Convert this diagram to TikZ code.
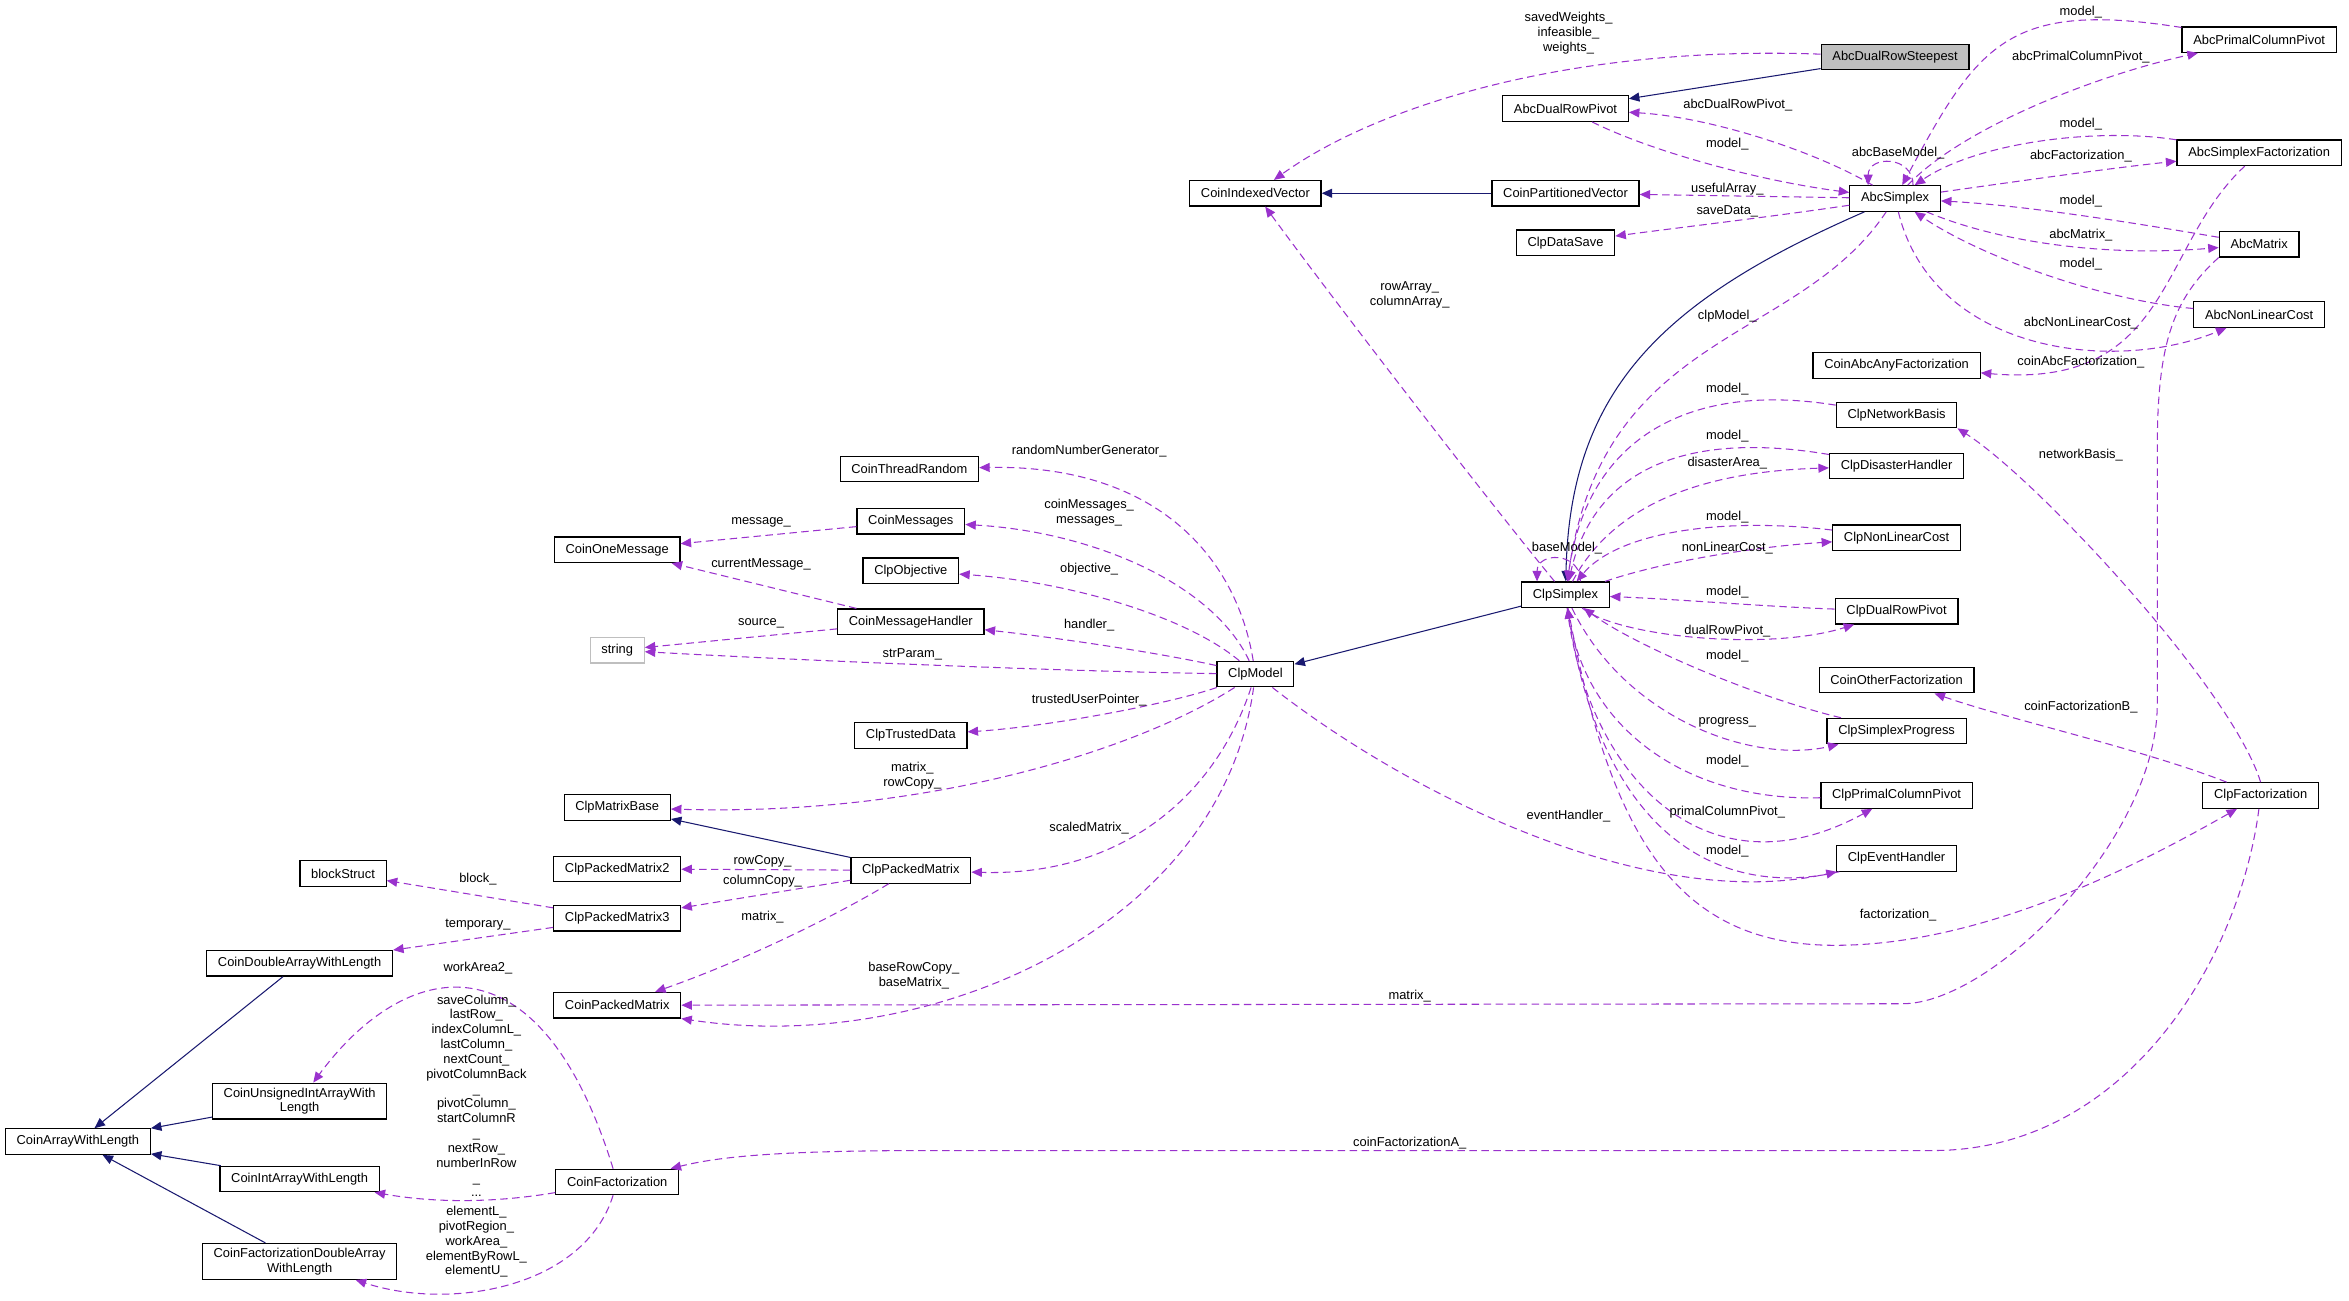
\documentclass[tikz,border=0pt]{standalone}
\usepackage{fontspec}
\setmainfont{Liberation Sans}
\usetikzlibrary{arrows.meta}
\definecolor{memcol}{HTML}{9A32CD}
\definecolor{inhcol}{HTML}{191970}
\definecolor{greyline}{HTML}{BFBFBF}

\begin{document}
\begin{tikzpicture}
[x=1pt,y=-1pt,
 cls/.style={rectangle,draw=black,fill=white,line width=0.8pt,inner xsep=7.5pt,inner ysep=3pt,minimum height=17pt,font=\fontsize{8.6}{9.9}\selectfont,align=center},
 lbl/.style={inner sep=0pt,font=\fontsize{8.6}{9.9}\selectfont,align=center},
 inh/.style={draw=inhcol,line width=0.7pt,-{Triangle[length=7pt,width=6pt]}},
 memb/.style={draw=memcol,line width=0.7pt,dash pattern=on 5pt off 3pt,-{Triangle[length=7pt,width=6pt]}}]
\useasboundingbox[fill=white] (0,0) rectangle (1568,868);
\node[cls,fill=greyline] at (1265,38) (adrs) {AbcDualRowSteepest};
\node[cls] at (1508,26.5) (apcp) {AbcPrimalColumnPivot};
\node[cls] at (1045,72.5) (adrp) {AbcDualRowPivot};
\node[cls] at (1508,102) (asf) {AbcSimplexFactorization};
\node[cls] at (838,129) (civ) {CoinIndexedVector};
\node[cls] at (1045,129) (cpv) {CoinPartitionedVector};
\node[cls] at (1265,132.5) (abcs) {AbcSimplex};
\node[cls] at (1045,162) (cds) {ClpDataSave};
\node[cls] at (1508,163) (amat) {AbcMatrix};
\node[cls] at (1508,210) (anlc) {AbcNonLinearCost};
\node[cls] at (1266,244) (caaf) {CoinAbcAnyFactorization};
\node[cls] at (1266,277) (cnb) {ClpNetworkBasis};
\node[cls] at (607,313) (ctr) {CoinThreadRandom};
\node[cls] at (1266,311) (cdh) {ClpDisasterHandler};
\node[cls] at (608,348) (cmsg) {CoinMessages};
\node[cls] at (1266,359) (cnlc) {ClpNonLinearCost};
\node[cls] at (412,367) (com) {CoinOneMessage};
\node[cls] at (608,381) (cobj) {ClpObjective};
\node[cls] at (1045,397) (clps) {ClpSimplex};
\node[cls] at (608,415) (cmh) {CoinMessageHandler};
\node[cls] at (1266,408) (cdrp) {ClpDualRowPivot};
\node[cls,draw=greyline] at (412,434) (str) {string};
\node[cls] at (838,450) (clpm) {ClpModel};
\node[cls] at (1266,454) (cof) {CoinOtherFactorization};
\node[cls] at (1266,488) (csp) {ClpSimplexProgress};
\node[cls] at (608,491) (ctd) {ClpTrustedData};
\node[cls] at (1509,531) (cfz) {ClpFactorization};
\node[cls] at (1266,531) (cpcp) {ClpPrimalColumnPivot};
\node[cls] at (412,539) (cmb) {ClpMatrixBase};
\node[cls] at (1266,573) (ceh) {ClpEventHandler};
\node[cls] at (229,583) (bs) {blockStruct};
\node[cls] at (412,580) (cpm2) {ClpPackedMatrix2};
\node[cls] at (608,581) (cpm) {ClpPackedMatrix};
\node[cls] at (412,613) (cpm3) {ClpPackedMatrix3};
\node[cls] at (200,643) (cdawl) {CoinDoubleArrayWithLength};
\node[cls] at (412,671) (cpkm) {CoinPackedMatrix};
\node[cls] at (200,735) (cuiawl) {CoinUnsignedIntArrayWith\\Length};
\node[cls] at (52,762) (cawl) {CoinArrayWithLength};
\node[cls] at (200,787) (ciawl) {CoinIntArrayWithLength};
\node[cls] at (412,789) (cf) {CoinFactorization};
\node[cls] at (200,842) (cfdawl) {CoinFactorizationDoubleArray\\WithLength};
\draw[inh] (adrs) -- (adrp);
\draw[inh] (cpv) -- (civ);
\draw[inh] (abcs) .. controls (1110,200) and (1048,260) .. (clps);
\draw[inh] (clps) -- (clpm);
\draw[inh] (cpm) -- (cmb);
\draw[inh] (cdawl) -- (cawl);
\draw[inh] (cuiawl) -- (cawl);
\draw[inh] (ciawl) -- (cawl);
\draw[inh] (cfdawl) -- (cawl);
\draw[memb] (adrs) .. controls (1050,30) and (920,70) .. (civ);
\draw[memb] (abcs) .. controls (1210,100) and (1140,78) .. (adrp);
\draw[memb] (adrp) .. controls (1100,100) and (1170,120) .. (abcs);
\draw[memb] ([xshift=12pt]abcs.north) .. controls +(0,-20) and +(0,-20) .. ([xshift=-18pt]abcs.north);
\draw[memb] (apcp) .. controls (1340,0) and (1320,30) .. (abcs);
\draw[memb] (abcs) .. controls (1310,85) and (1400,50) .. (apcp);
\draw[memb] (asf) .. controls (1400,85) and (1320,95) .. (abcs);
\draw[memb] (abcs) .. controls (1340,122) and (1410,112) .. (asf);
\draw[memb] (abcs) -- (cpv);
\draw[memb] (abcs) .. controls (1180,145) and (1120,152) .. (cds);
\draw[memb] (amat) .. controls (1420,148) and (1350,137) .. (abcs);
\draw[memb] (abcs) .. controls (1330,160) and (1400,172) .. (amat);
\draw[memb] (anlc) .. controls (1400,200) and (1320,170) .. (abcs);
\draw[memb] (abcs) .. controls (1290,235) and (1410,250) .. (anlc);
\draw[memb] (asf) .. controls (1440,165) and (1450,260) .. (caaf);
\draw[memb] (amat.south west) .. controls (1450,200) and (1440,230) .. (1440,300) -- (1440,470) .. controls (1440,560) and (1330,670) .. (1270,670) -- (cpkm);
\draw[memb] (abcs) .. controls (1200,230) and (1070,220) .. (clps);
\draw[memb] (clps) .. controls (990,330) and (890,200) .. (civ);
\draw[memb] ([xshift=10pt]clps.north) .. controls +(0,-20) and +(0,-20) .. ([xshift=-19pt]clps.north);
\draw[memb] (cnb) .. controls (1130,255) and (1060,290) .. (clps);
\draw[memb] (cdh) .. controls (1130,288) and (1065,310) .. (clps);
\draw[memb] (clps) .. controls (1075,340) and (1130,315) .. (cdh);
\draw[memb] (cnlc) .. controls (1150,345) and (1080,355) .. (clps);
\draw[memb] (clps) .. controls (1110,375) and (1170,365) .. (cnlc);
\draw[memb] (cdrp) .. controls (1180,405) and (1120,400) .. (clps);
\draw[memb] (clps) .. controls (1080,425) and (1180,435) .. (cdrp);
\draw[memb] (csp) .. controls (1170,465) and (1090,430) .. (clps);
\draw[memb] (clps) .. controls (1085,480) and (1170,510) .. (csp);
\draw[memb] (cpcp) .. controls (1130,535) and (1060,490) .. (clps);
\draw[memb] (clps) .. controls (1060,520) and (1140,600) .. (cpcp);
\draw[memb] (ceh) .. controls (1150,600) and (1070,560) .. (clps);
\draw[memb] (clpm) .. controls (940,530) and (1100,610) .. (ceh);
\draw[memb] (clps) .. controls (1075,560) and (1120,631) .. (1225,631) .. controls (1330,631) and (1440,570) .. (cfz);
\draw[memb] (cfz) .. controls (1430,500) and (1340,480) .. (cof);
\draw[memb] (cfz.north) .. controls (1490,460) and (1360,320) .. (cnb.south east);
\draw[memb] (cfz) .. controls (1495,640) and (1420,768) .. (1290,768) -- (620,768) .. controls (520,768) and (480,772) .. (cf);
\draw[memb] (clpm) .. controls (825,370) and (770,310) .. (ctr);
\draw[memb] (clpm) .. controls (810,390) and (730,355) .. (cmsg);
\draw[memb] (clpm) .. controls (790,410) and (710,388) .. (cobj);
\draw[memb] (clpm) .. controls (770,435) and (700,425) .. (cmh);
\draw[memb] (clpm) .. controls (700,448) and (520,440) .. (str);
\draw[memb] (clpm) .. controls (780,470) and (700,485) .. (ctd);
\draw[memb] (clpm) .. controls (760,500) and (620,545) .. (cmb);
\draw[memb] (clpm) .. controls (812,530) and (750,585) .. (cpm);
\draw[memb] (clpm) .. controls (815,620) and (620,705) .. (cpkm.south east);
\draw[memb] (cmsg) -- (com);
\draw[memb] (cmh) -- (com);
\draw[memb] (cmh) -- (str);
\draw[memb] (cpm) -- (cpm2);
\draw[memb] (cpm) -- (cpm3);
\draw[memb] (cpm) .. controls (560,610) and (500,640) .. (cpkm);
\draw[memb] (cpm3) -- (bs);
\draw[memb] (cpm3) -- (cdawl);
\draw[memb] (cf) .. controls (360,620) and (270,640) .. (cuiawl);
\draw[memb] (cf) .. controls (330,803) and (290,803) .. (ciawl);
\draw[memb] (cf) .. controls (390,860) and (300,875) .. (cfdawl);
\node[lbl] at (1047,22) (l1) {savedWeights\_\\infeasible\_\\weights\_};
\node[lbl] at (1160,70) (l2) {abcDualRowPivot\_};
\node[lbl] at (1153,96) (l3) {model\_};
\node[lbl] at (1267,102) (l4) {abcBaseModel\_};
\node[lbl] at (1389,8) (l5) {model\_};
\node[lbl] at (1389,38) (l6) {abcPrimalColumnPivot\_};
\node[lbl] at (1389,83) (l7) {model\_};
\node[lbl] at (1389,104) (l8) {abcFactorization\_};
\node[lbl] at (1153,126) (l9) {usefulArray\_};
\node[lbl] at (1153,141) (l10) {saveData\_};
\node[lbl] at (1389,134) (l11) {model\_};
\node[lbl] at (1389,157) (l12) {abcMatrix\_};
\node[lbl] at (1389,176) (l13) {model\_};
\node[lbl] at (1389,216) (l14) {abcNonLinearCost\_};
\node[lbl] at (1389,242) (l15) {coinAbcFactorization\_};
\node[lbl] at (1153,211) (l16) {clpModel\_};
\node[lbl] at (941,197) (l17) {rowArray\_\\columnArray\_};
\node[lbl] at (1153,260) (l18) {model\_};
\node[lbl] at (1153,291) (l19) {model\_};
\node[lbl] at (1153,309) (l20) {disasterArea\_};
\node[lbl] at (1389,304) (l21) {networkBasis\_};
\node[lbl] at (1153,345) (l22) {model\_};
\node[lbl] at (1153,366) (l23) {nonLinearCost\_};
\node[lbl] at (1046,366) (l24) {baseModel\_};
\node[lbl] at (1153,395) (l25) {model\_};
\node[lbl] at (1153,421) (l26) {dualRowPivot\_};
\node[lbl] at (1153,438) (l27) {model\_};
\node[lbl] at (1389,472) (l28) {coinFactorizationB\_};
\node[lbl] at (1153,482) (l29) {progress\_};
\node[lbl] at (1153,508) (l30) {model\_};
\node[lbl] at (1153,542) (l31) {primalColumnPivot\_};
\node[lbl] at (1047,545) (l32) {eventHandler\_};
\node[lbl] at (1153,568) (l33) {model\_};
\node[lbl] at (1267,611) (l34) {factorization\_};
\node[lbl] at (941,665) (l35) {matrix\_};
\node[lbl] at (941,763) (l36) {coinFactorizationA\_};
\node[lbl] at (727,301) (l37) {randomNumberGenerator\_};
\node[lbl] at (727,342) (l38) {coinMessages\_\\messages\_};
\node[lbl] at (727,380) (l39) {objective\_};
\node[lbl] at (727,417) (l40) {handler\_};
\node[lbl] at (609,437) (l41) {strParam\_};
\node[lbl] at (727,467) (l42) {trustedUserPointer\_};
\node[lbl] at (609,518) (l43) {matrix\_\\rowCopy\_};
\node[lbl] at (727,553) (l44) {scaledMatrix\_};
\node[lbl] at (610,651) (l45) {baseRowCopy\_\\baseMatrix\_};
\node[lbl] at (508,349) (l46) {message\_};
\node[lbl] at (508,377) (l47) {currentMessage\_};
\node[lbl] at (508,416) (l48) {source\_};
\node[lbl] at (509,575) (l49) {rowCopy\_};
\node[lbl] at (509,588) (l50) {columnCopy\_};
\node[lbl] at (509,612) (l51) {matrix\_};
\node[lbl] at (319,587) (l52) {block\_};
\node[lbl] at (319,617) (l53) {temporary\_};
\node[lbl] at (319,646) (l54) {workArea2\_};
\node[lbl] at (318,731.5) (l55) {saveColumn\_\\lastRow\_\\indexColumnL\_\\lastColumn\_\\nextCount\_\\pivotColumnBack\\\_\\pivotColumn\_\\startColumnR\\\_\\nextRow\_\\numberInRow\\\_\\...};
\node[lbl] at (318,829) (l56) {elementL\_\\pivotRegion\_\\workArea\_\\elementByRowL\_\\elementU\_};
\end{tikzpicture}
\end{document}
